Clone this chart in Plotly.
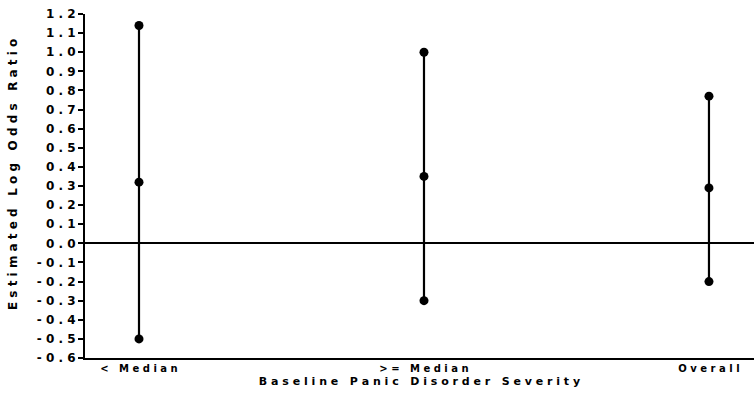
import plotly.graph_objects as go

# Groups and interval estimates (lower bound, point estimate, upper bound)
groups = ["< Median", ">= Median", "Overall"]
lower = [-0.50, -0.30, -0.20]
estimate = [0.32, 0.35, 0.29]
upper = [1.14, 1.00, 0.77]

y_ticks = [-0.6, -0.5, -0.4, -0.3, -0.2, -0.1, 0.0, 0.1, 0.2, 0.3,
           0.4, 0.5, 0.6, 0.7, 0.8, 0.9, 1.0, 1.1, 1.2]

x_title = "Baseline Panic Disorder Severity"
y_title = "Estimated Log Odds Ratio"


def spaced(text):
    """Letter-spaced text in the style of a pen-plotter font."""
    words = text.split(" ")
    return "   ".join(" ".join(list(w)) for w in words)


def tick_label(v):
    s = f"{v:.1f}"
    if s == "-0.0":
        s = "0.0"
    return " ".join(list(s))


BLACK = "#000000"
FAMILY = "DejaVu Sans"

fig = go.Figure()
for i, name in enumerate(groups):
    fig.add_trace(go.Scatter(
        x=[i, i, i],
        y=[lower[i], estimate[i], upper[i]],
        mode="lines+markers",
        line=dict(color=BLACK, width=2.2),
        marker=dict(color=BLACK, size=9),
        name=name,
        showlegend=False,
        hoverinfo="y",
    ))

fig.update_layout(
    template="none",
    width=754, height=399,
    margin=dict(l=85, r=0, t=14, b=41),
    paper_bgcolor="white",
    plot_bgcolor="white",
    font=dict(family=FAMILY, size=10, color=BLACK),
    showlegend=False,
)

fig.update_xaxes(
    range=[-0.1895, 2.158],
    tickvals=list(range(len(groups))),
    ticktext=["<b>" + spaced(g) + "</b>" for g in groups],
    ticks="",
    showgrid=False,
    zeroline=False,
    showline=True, linecolor=BLACK, linewidth=1.5,
    tickfont=dict(family=FAMILY, size=10, color=BLACK),
    title=dict(text="<b>" + spaced(x_title) + "</b>",
               font=dict(family=FAMILY, size=11, color=BLACK),
               standoff=5),
)

fig.update_yaxes(
    range=[-0.6, 1.2],
    tickvals=y_ticks,
    ticktext=["<b>" + tick_label(v) + "</b>" for v in y_ticks],
    ticks="outside", ticklen=5, tickwidth=1.5, tickcolor=BLACK,
    showgrid=False,
    zeroline=True, zerolinecolor=BLACK, zerolinewidth=1.5,
    showline=True, linecolor=BLACK, linewidth=2,
    tickfont=dict(family=FAMILY, size=12, color=BLACK),
)

# Vertical axis title, placed as a rotated annotation left of the tick labels
fig.add_annotation(
    text="<b>" + spaced(y_title) + "</b>",
    textangle=-90,
    xref="paper", yref="paper",
    x=-0.1076, y=0.532,
    xanchor="center", yanchor="middle",
    showarrow=False,
    font=dict(family=FAMILY, size=12, color=BLACK),
)

fig.write_html("out.html")
